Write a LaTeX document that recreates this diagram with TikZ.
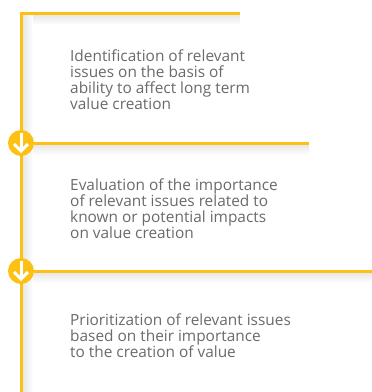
\documentclass[tikz,border=0pt]{standalone}
\usepackage{fontspec}
\setmainfont{Open Sans}
\definecolor{ylw}{HTML}{FDC113}
\definecolor{txt}{HTML}{6A6A6A}
\tikzset{
  bar/.style={draw=ylw, line width=3pt},
  desc/.style={anchor=base west, align=left, inner sep=0pt, text=txt,
    font=\fontsize{15.4pt}{16pt}\selectfont},
  stepdot/.style={circle, fill=ylw, minimum size=26pt, inner sep=0pt},
  arr/.style={draw=white, line width=3pt},
}
\begin{document}
\begin{tikzpicture}[x=1pt,y=-1pt]
\useasboundingbox (0,0) rectangle (372,392);
% soft shadows
\shade[top color=black!9, bottom color=white] (22,15) rectangle (240,25);
\shade[top color=black!9, bottom color=white] (22,145) rectangle (309,155);
\shade[top color=black!9, bottom color=white] (22,273) rectangle (372,283);
\shade[left color=black!9, right color=white] (23,15) rectangle (33,392);
% lines
\coordinate (top) at (21,13);
\coordinate (bot) at (21,392);
\coordinate (e1) at (240,13);
\coordinate (e2) at (309,143);
\coordinate (e3) at (372,271);
\draw[bar] (19.5,13) -- (e1);
\draw[bar] (top) -- (bot);
\node[stepdot] (d1) at (21,143) {};
\node[stepdot] (d2) at (21,271) {};
\draw[bar] (d1.east) -- (e2);
\draw[bar] (d2.east) -- (e3);
% arrows
\foreach \d in {d1,d2}{
  \draw[arr] ([yshift=10pt]\d.center) -- ([yshift=-7pt]\d.center);
  \draw[arr, line join=miter] ([xshift=-7pt,yshift=-1pt]\d.center) -- ([yshift=-8pt]\d.center) -- ([xshift=7pt,yshift=-1pt]\d.center);
}
% texts (anchored at the baseline of the last line)
\node[desc] (t1) at (70,109) {Identification of relevant\\issues on the basis of\\ability to affect long term\\value creation};
\node[desc] (t2) at (70,238) {Evaluation of the importance\\of relevant issues related to\\known or potential impacts\\on value creation};
\node[desc] (t3) at (70,357) {Prioritization of relevant issues\\based on their importance\\to the creation of value};
\end{tikzpicture}
\end{document}
